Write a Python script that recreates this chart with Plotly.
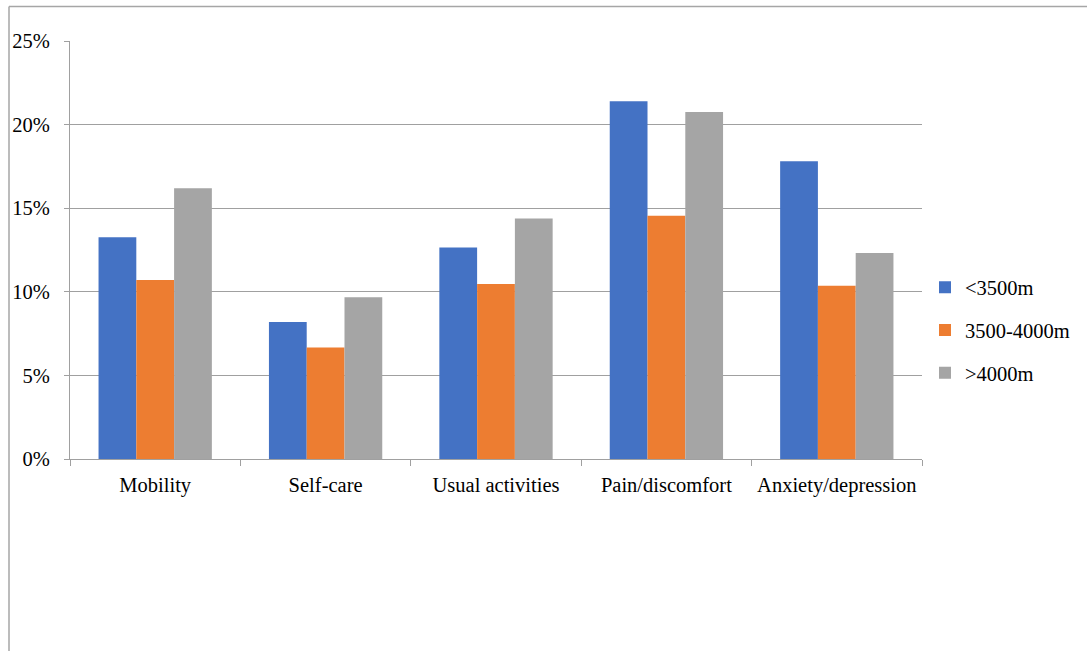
import plotly.graph_objects as go

# EQ-5D dimensions and share of respondents reporting problems (%), by altitude
categories = ["Mobility", "Self-care", "Usual activities", "Pain/discomfort", "Anxiety/depression"]
series_names = ["<3500m", "3500-4000m", ">4000m"]
low_alt = [13.26, 8.19, 12.65, 21.40, 17.81]
mid_alt = [10.70, 6.67, 10.46, 14.55, 10.36]
high_alt = [16.20, 9.67, 14.39, 20.75, 12.32]
y_ticks = [0, 5, 10, 15, 20, 25]

colors = ["#4472C4", "#ED7D31", "#A5A5A5"]
font_family = "Liberation Serif"

fig = go.Figure()
for i, (name, vals) in enumerate(zip(series_names, [low_alt, mid_alt, high_alt])):
    fig.add_trace(go.Bar(
        x=categories, y=vals, name=name,
        marker=dict(color=colors[i], line=dict(width=0)),
        legendgroup=name,
    ))

W, H = 1087, 651
L, R, T, B = 70, 165, 41, 192
pw, ph = W - L - R, H - T - B

def px_x(x):
    return (x - L) / pw

def px_y(y):
    return (H - B - y) / ph

border = "#A6A6A6"
grid = "#A0A0A0"

fig.update_layout(
    width=W, height=H,
    margin=dict(l=L, r=R, t=T, b=B, pad=0, autoexpand=False),
    paper_bgcolor="white", plot_bgcolor="white",
    barmode="group", bargap=0.335, bargroupgap=0,
    font=dict(family=font_family, size=20.5, color="#000000"),
    showlegend=True,
    legend=dict(
        x=px_x(925), xanchor="left",
        y=px_y(330), yanchor="middle",
        font=dict(family=font_family, size=20.5, color="#000000"),
        tracegroupgap=13,
        bgcolor="rgba(0,0,0,0)",
    ),
    xaxis=dict(
        type="category",
        showline=True, linecolor=grid, linewidth=1,
        ticks="outside", tickson="boundaries", ticklen=6, tickcolor=grid,
        showgrid=False,
        tickangle=0, automargin=False,
        tickfont=dict(family=font_family, size=20.5),
        ticklabelstandoff=7,
    ),
    yaxis=dict(
        range=[0, 25], tickvals=y_ticks, ticktext=[f"{v}%" for v in y_ticks],
        showline=True, linecolor=grid, linewidth=1,
        ticks="outside", ticklen=5, tickcolor=grid,
        showgrid=True, gridcolor=grid, gridwidth=1,
        zeroline=False, automargin=False,
        tickfont=dict(family=font_family, size=20.5),
        ticklabelstandoff=10,
    ),
    shapes=[
        dict(type="line", xref="paper", yref="paper",
             x0=px_x(9), x1=px_x(W + 5), y0=px_y(6.5), y1=px_y(6.5),
             line=dict(color=border, width=1.5)),
        dict(type="line", xref="paper", yref="paper",
             x0=px_x(9), x1=px_x(9), y0=px_y(6.5), y1=px_y(H + 5),
             line=dict(color=border, width=1.5)),
    ],
)

fig.write_html("out.html")
